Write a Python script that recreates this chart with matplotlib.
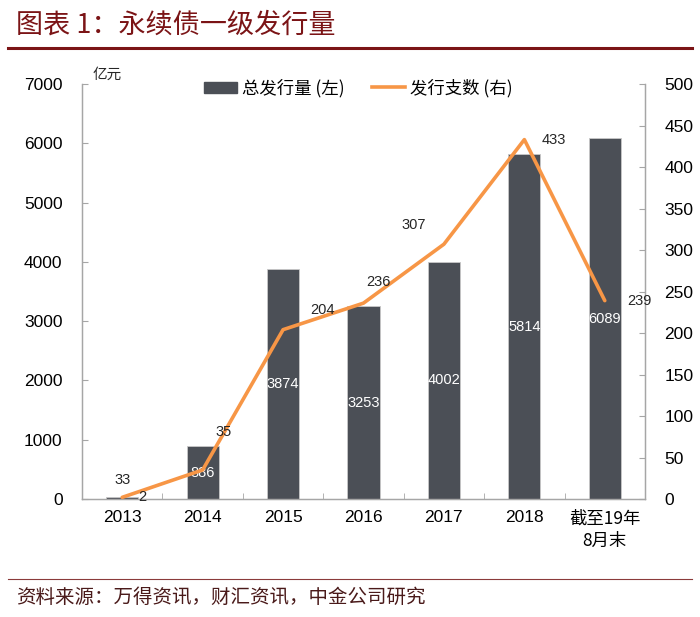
import matplotlib.pyplot as plt
import numpy as np
from matplotlib.patches import Patch
from matplotlib.lines import Line2D

plt.rcParams['font.family'] = ['Liberation Sans', 'Noto Sans CJK SC', 'DejaVu Sans']

# --- data ---
categories = ['2013', '2014', '2015', '2016', '2017', '2018', '截至19年\n8月末']
issue_amount = [33, 886, 3874, 3253, 4002, 5814, 6089]   # 亿元, left axis
issue_count = [2, 35, 204, 236, 307, 433, 239]           # 支, right axis

# label offsets for the line values (pixels)
count_offsets = [(20, 0), (21, 38), (39, 20), (15, 21), (-30, 19), (29, 0), (35, 0)]

BAR_COLOR = '#4b4f56'
LINE_COLOR = '#f79646'
AXIS_COLOR = '#a6a6a6'
RED = '#7b1416'

fig = plt.figure(figsize=(7.0, 6.17), dpi=100)
ax = fig.add_axes([82 / 700, 1 - 499 / 617, (645 - 82) / 700, (499 - 84) / 617])
ax2 = ax.twinx()

x = np.arange(len(categories))
ax.bar(x, issue_amount, width=0.4, color=BAR_COLOR, edgecolor='#c8c8c8',
       linewidth=0.6, zorder=2)
ax.set_ylim(0, 7000)
ax.set_xlim(-0.5, len(categories) - 0.5)
ax.set_yticks(range(0, 7001, 1000))
ax.set_xticks(x)
ax.set_xticklabels(categories, fontsize=12.5)
ax.set_xticks(np.arange(-0.5, len(categories), 1.0), minor=True)
ax.tick_params(axis='x', which='major', length=0, pad=8)
ax.tick_params(axis='x', which='minor', direction='in', length=4, color=AXIS_COLOR)
ax.tick_params(axis='y', direction='in', length=4, color=AXIS_COLOR, labelsize=12.5, pad=14)
for lbl in ax.get_xticklabels():
    if '截' in lbl.get_text():
        lbl.set_family(['Noto Sans CJK SC', 'Liberation Sans'])
        lbl.set_fontsize(12.5)
        lbl.set_linespacing(1.3)

# bar value labels
for i, v in enumerate(issue_amount):
    if v < 200:
        ax.annotate(str(v), (x[i], v), xytext=(0, 7), textcoords='offset points',
                    ha='center', va='bottom', fontsize=10.5, color='#262626')
    else:
        ax.text(x[i], v / 2, str(v), ha='center', va='center', fontsize=10.5,
                color='white', zorder=3)

ax2.plot(x, issue_count, color=LINE_COLOR, linewidth=2.6, zorder=4,
         solid_capstyle='round')
ax2.set_ylim(0, 500)
ax2.set_yticks(range(0, 501, 50))
ax2.tick_params(axis='y', direction='in', length=4, color=AXIS_COLOR, labelsize=12.5, pad=14)
for i, v in enumerate(issue_count):
    dx, dy = count_offsets[i]
    ax2.annotate(str(v), (x[i], v), xytext=(dx * 0.72, dy * 0.72),
                 textcoords='offset points', ha='center', va='center',
                 fontsize=10.5, color='#262626', zorder=6)

for a in (ax, ax2):
    a.spines['top'].set_visible(False)
    for s in ('left', 'right', 'bottom'):
        a.spines[s].set_color(AXIS_COLOR)
        a.spines[s].set_linewidth(0.9)
ax.set_zorder(ax2.get_zorder() - 1)
ax2.patch.set_visible(False)

# unit label
fig.text(93 / 700, 1 - 75 / 617, '亿元', family='Noto Sans CJK SC', fontsize=10.5,
         ha='left', va='center', color='#262626')

# legend
handles = [Patch(facecolor=BAR_COLOR, edgecolor=BAR_COLOR, label='总发行量 (左)'),
           Line2D([0], [0], color=LINE_COLOR, linewidth=2.6, label='发行支数 (右)')]
fig.legend(handles=handles, loc='center', bbox_to_anchor=(0.512, 1 - 88 / 617), ncol=2,
           frameon=False, prop={'family': 'Noto Sans CJK SC', 'size': 12.5},
           handlelength=1.9, handleheight=0.6, columnspacing=1.6, handletextpad=0.3)

# title, rules and source
fig.text(16 / 700, 1 - 25 / 617, '图表 1：永续债一级发行量', family='Noto Sans CJK SC',
         fontsize=19.5, color=RED, ha='left', va='center')
fig.add_artist(Line2D([8 / 700, 692 / 700], [1 - 48 / 617] * 2, color=RED, linewidth=2.2))
fig.add_artist(Line2D([8 / 700, 692 / 700], [1 - 579 / 617] * 2, color='#8b3a3a', linewidth=0.8))
fig.text(16 / 700, 1 - 597 / 617, '资料来源：万得资讯，财汇资讯，中金公司研究',
         family='Noto Sans CJK SC', fontsize=14, color='#4a1a1a', ha='left', va='center')

fig.savefig('out.png', dpi=100)
